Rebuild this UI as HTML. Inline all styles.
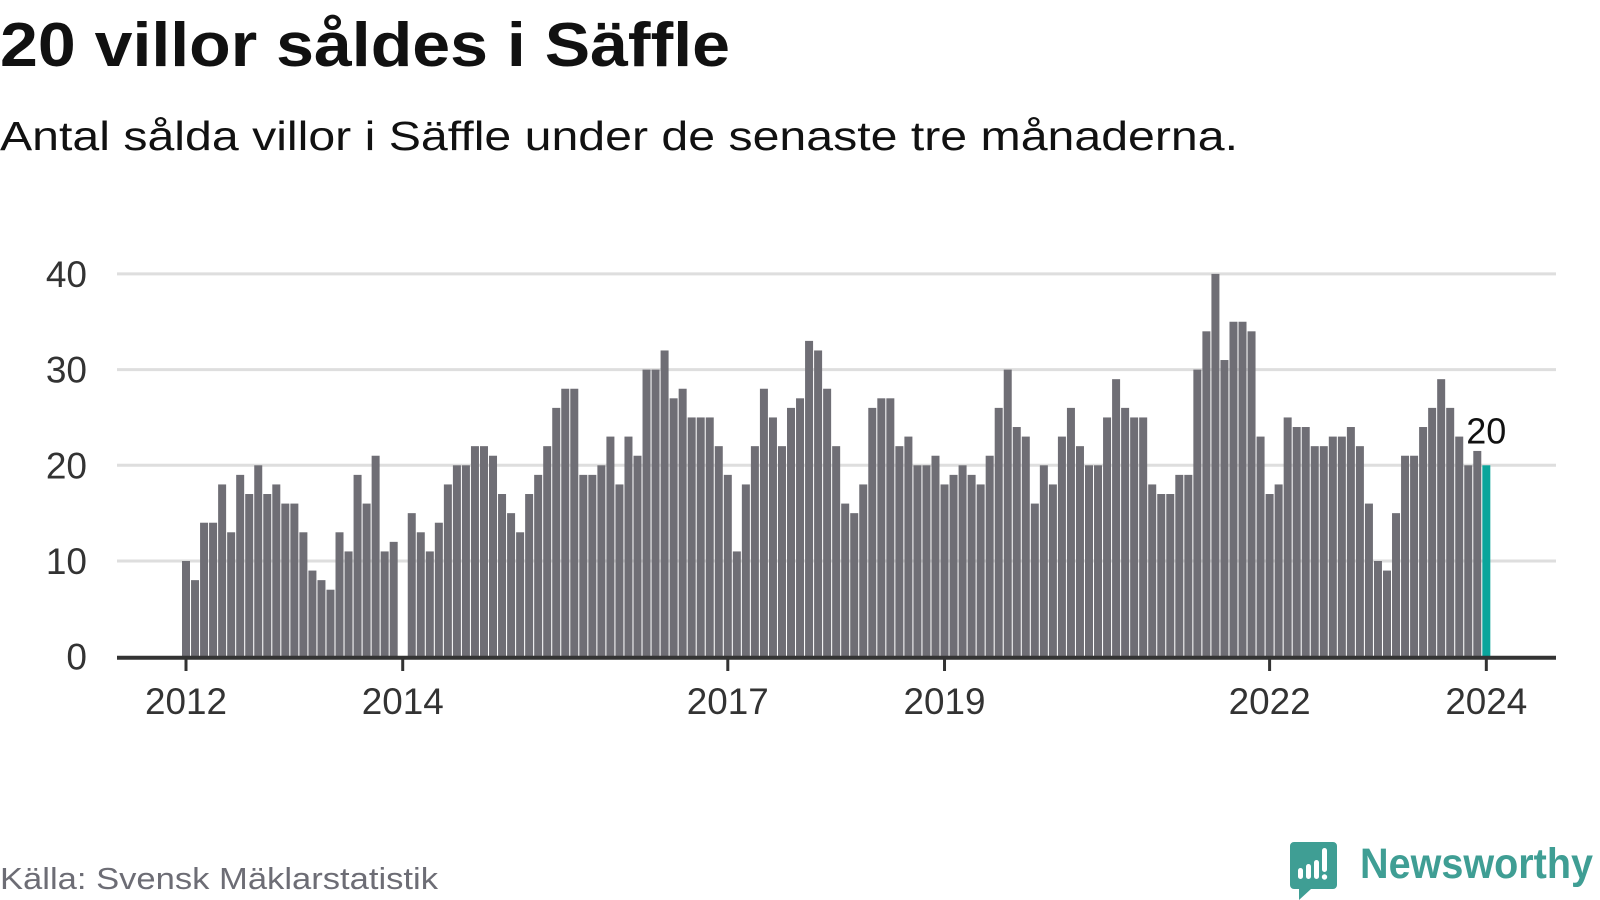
<!DOCTYPE html>
<html><head><meta charset="utf-8"><style>
html,body{margin:0;padding:0;background:#fff;}
svg{display:block;font-family:"Liberation Sans",sans-serif;}
</style></head><body>
<svg id="chart" width="1600" height="900" viewBox="0 0 1600 900" xmlns="http://www.w3.org/2000/svg">
<text x="0" y="66" font-size="62" font-weight="bold" fill="#111" textLength="730" lengthAdjust="spacingAndGlyphs">20 villor såldes i Säffle</text>
<text x="0" y="150" font-size="41" fill="#111" textLength="1238" lengthAdjust="spacingAndGlyphs">Antal sålda villor i Säffle under de senaste tre månaderna.</text>
<g id="grid"></g>
<g id="bars"></g>
<g id="axes"></g>
<text x="0" y="889" font-size="31" fill="#6d6d75" textLength="438" lengthAdjust="spacingAndGlyphs">Källa: Svensk Mäklarstatistik</text>
<g>
<path d="M1294 842 h39 a4 4 0 0 1 4 4 v39 a4 4 0 0 1 -4 4 h-22 l-12 11 v-11 h-5 a4 4 0 0 1 -4 -4 v-39 a4 4 0 0 1 4 -4z" fill="#3f9e94"/>
<rect x="1298" y="868" width="5" height="11" rx="2.5" fill="#fff"/>
<rect x="1306" y="864" width="5" height="15" rx="2.5" fill="#fff"/>
<rect x="1314" y="860" width="5" height="19" rx="2.5" fill="#fff"/>
<rect x="1322" y="848" width="5" height="24" rx="2.5" fill="#fff"/>
<circle cx="1324.5" cy="877" r="2.7" fill="#fff"/>
<text x="1360" y="878" font-size="43" font-weight="bold" fill="#3f9e94" textLength="233" lengthAdjust="spacingAndGlyphs">Newsworthy</text>
</g>
</svg>
<script>
const values = [
10,8,14,14,18,13,19,17,20,17,18,16,
16,13,9,8,7,13,11,19,16,21,11,12,
null,15,13,11,14,18,20,20,22,22,21,17,
15,13,17,19,22,26,28,28,19,19,20,23,
18,23,21,30,30,32,27,28,25,25,25,22,
19,11,18,22,28,25,22,26,27,33,32,28,
22,16,15,18,26,27,27,22,23,20,20,21,
18,19,20,19,18,21,26,30,24,23,16,20,
18,23,26,22,20,20,25,29,26,25,25,18,
17,17,19,19,30,34,40,31,35,35,34,23,
17,18,25,24,24,22,22,23,23,24,22,16,
10,9,15,21,21,24,26,29,26,23,20,21.5,
20];
const yTicks = [0,10,20,30,40];
const yearTicks = [2012,2014,2017,2019,2022,2024];
const startYear = 2012;
const lastLabel = "20";

const NS="http://www.w3.org/2000/svg";
function xPos(i){return 186 + i*9.03;}
function yPos(v){return 656.7 - v*9.57;}
function mk(tag,attrs,parent){const e=document.createElementNS(NS,tag);for(const k in attrs)e.setAttribute(k,attrs[k]);parent.appendChild(e);return e;}
const grid=document.getElementById('grid'),bars=document.getElementById('bars'),axes=document.getElementById('axes');
yTicks.forEach(t=>{
  if(t>0){const l=mk('line',{x1:117,x2:1556,y1:yPos(t),y2:yPos(t),stroke:'#dedede','stroke-width':3},grid);
  
  }
  const tx=mk('text',{x:87,y:yPos(t)+13,'text-anchor':'end','font-size':37,fill:'#333'},axes);
  tx.textContent=t;
  
  
});
values.forEach((v,i)=>{
  if(v===null)return;
  const last=i===values.length-1;
  const r=mk('rect',{x:xPos(i)-4,y:yPos(v),width:8,height:yPos(0)-yPos(v),fill:last?'#0aa59b':'#6f6e75'},bars);
  
  
});
const axis=mk('line',{x1:117,x2:1556,y1:yPos(0)+1,y2:yPos(0)+1,stroke:'#333','stroke-width':4},axes);


yearTicks.forEach(y=>{
  const x=xPos((y-startYear)*12);
  const tk=mk('line',{x1:x,x2:x,y1:yPos(0),y2:671,stroke:'#333','stroke-width':3},axes);
  
  
  const tx=mk('text',{x:x,y:714,'text-anchor':'middle','font-size':37,fill:'#333',textLength:82,lengthAdjust:'spacingAndGlyphs'},axes);
  tx.textContent=y;
  
  
});
const li=values.length-1;
const lab=mk('text',{x:xPos(li),y:yPos(values[li])-22,'text-anchor':'middle','font-size':36,fill:'#111',stroke:'#fff','stroke-width':5,'paint-order':'stroke'},axes);
lab.textContent=lastLabel;


</script>
</body></html>
